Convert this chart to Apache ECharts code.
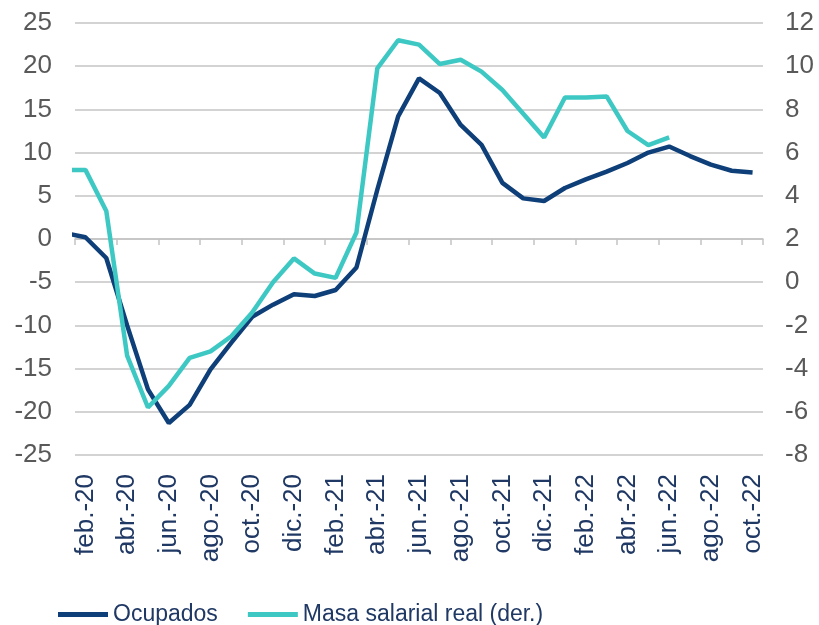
<!DOCTYPE html>
<html>
<head>
<meta charset="utf-8">
<script src="https://cdn.jsdelivr.net/npm/echarts@6/dist/echarts.min.js"></script>
<style>
  html, body { margin: 0; padding: 0; background: #fff; }
  #chart { width: 819px; height: 625px; }
</style>
</head>
<body>
<div id="chart"></div>
<script>
// meses mostrados en el eje (feb.-20 a oct.-22)
var months = ['feb.-20', 'mar.-20', 'abr.-20', 'may.-20', 'jun.-20', 'jul.-20', 'ago.-20', 'sep.-20',
  'oct.-20', 'nov.-20', 'dic.-20', 'ene.-21', 'feb.-21', 'mar.-21', 'abr.-21', 'may.-21', 'jun.-21',
  'jul.-21', 'ago.-21', 'sep.-21', 'oct.-21', 'nov.-21', 'dic.-21', 'ene.-22', 'feb.-22', 'mar.-22',
  'abr.-22', 'may.-22', 'jun.-22', 'jul.-22', 'ago.-22', 'sep.-22', 'oct.-22'];

// las series empiezan en ene.-20 (queda recortado a la izquierda del eje)
var firstIndex = -1;

// Ocupados (eje izq.)
var ocupados = [0.7, 0.2, -2.2, -10.0, -17.4, -21.3, -19.2, -15.1, -12.0, -9.0, -7.6, -6.4, -6.6,
  -5.9, -3.3, 5.7, 14.2, 18.6, 16.9, 13.2, 10.9, 6.5, 4.7, 4.4, 5.9, 6.9, 7.8, 8.8, 10.0, 10.7,
  9.6, 8.6, 7.9, 7.7];

// Masa salarial real (eje der.)
var masaSalarial = [5.2, 5.2, 3.3, -3.4, -5.8, -4.8, -3.5, -3.2, -2.5, -1.4, 0.0, 1.1, 0.4, 0.2,
  2.3, 9.9, 11.2, 11.0, 10.1, 10.3, 9.75, 8.9, 7.8, 6.7, 8.55, 8.55, 8.6, 7.0, 6.35, 6.7];

var leftTicks = { min: -25, max: 25, step: 5 };
var rightTicks = { min: -8, max: 12, step: 2 };

function toPoints(values) {
  return values.map(function (v, i) { return [firstIndex + i, v]; });
}

var chart = echarts.init(document.getElementById('chart'));

var gridColor = '#c4c4c4';
var navy = '#0e3f78';
var teal = '#3ec8c4';

var option = {
  animation: false,
  textStyle: { fontFamily: 'Liberation Sans, Arial, sans-serif' },
  grid: { left: 75, right: 56, top: 23, bottom: 170, containLabel: false },
  legend: {
    left: 53,
    top: 598,
    itemWidth: 50,
    itemHeight: 5,
    itemGap: 30,
    icon: 'rect',
    textStyle: { fontSize: 23, color: '#1f3864', fontFamily: 'Liberation Sans, Arial, sans-serif' },
    data: ['Ocupados', 'Masa salarial real (der.)']
  },
  xAxis: [
    {
      // etiquetas abajo
      type: 'category',
      data: months,
      boundaryGap: true,
      position: 'bottom',
      axisLine: { show: false, onZero: false },
      axisTick: { show: false },
      axisLabel: {
        rotate: 90,
        interval: 1,
        margin: 19,
        fontSize: 26,
        color: '#1f3864'
      },
      splitLine: { show: false }
    },
    {
      // línea del eje con marcas en el cero
      type: 'category',
      data: months,
      boundaryGap: true,
      position: 'bottom',
      axisLine: { show: true, onZero: true, onZeroAxisIndex: 0, lineStyle: { color: gridColor, width: 1.5 } },
      axisTick: {
        show: true,
        interval: function (index) { return index % 2 === 0 && index < months.length; },
        length: 6,
        lineStyle: { color: gridColor, width: 1.5 }
      },
      axisLabel: { show: false },
      splitLine: { show: false }
    },
    {
      // eje de valores oculto para posicionar las series
      type: 'value',
      min: -0.5,
      max: months.length - 0.5,
      show: false
    }
  ],
  yAxis: [
    {
      type: 'value',
      min: leftTicks.min,
      max: leftTicks.max,
      interval: leftTicks.step,
      axisLine: { show: false },
      axisTick: { show: false },
      axisLabel: { fontSize: 26, color: '#595959', margin: 23 },
      splitLine: { lineStyle: { color: gridColor, width: 1.5 } }
    },
    {
      type: 'value',
      min: rightTicks.min,
      max: rightTicks.max,
      interval: rightTicks.step,
      position: 'right',
      axisLine: { show: false },
      axisTick: { show: false },
      axisLabel: { fontSize: 26, color: '#595959', margin: 22 },
      splitLine: { show: false }
    }
  ],
  series: [
    {
      name: 'Ocupados',
      type: 'line',
      xAxisIndex: 2,
      yAxisIndex: 0,
      data: toPoints(ocupados),
      symbol: 'none',
      clip: true,
      color: navy,
      lineStyle: { color: navy, width: 4.5 },
      z: 3
    },
    {
      name: 'Masa salarial real (der.)',
      type: 'line',
      xAxisIndex: 2,
      yAxisIndex: 1,
      data: toPoints(masaSalarial),
      symbol: 'none',
      clip: true,
      color: teal,
      lineStyle: { color: teal, width: 4.5 },
      z: 4
    }
  ]
};

chart.setOption(option);
</script>
</body>
</html>
